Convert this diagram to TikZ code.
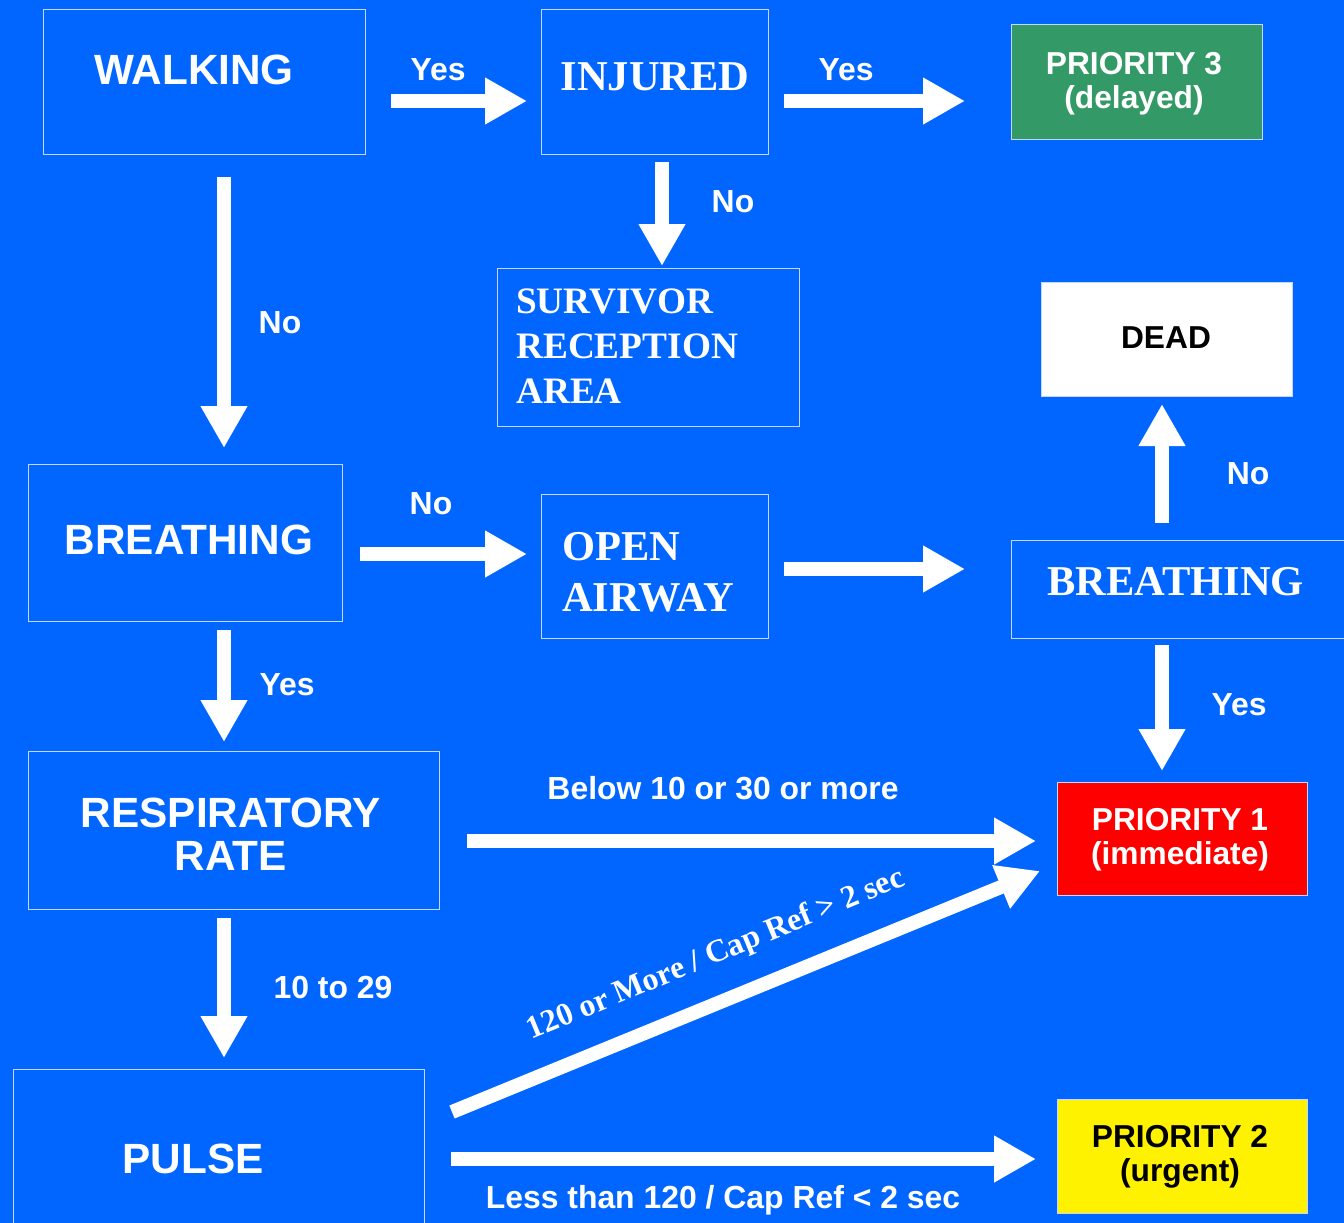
\documentclass[tikz,border=0pt]{standalone}
\usepackage{fontspec}
\setmainfont{Liberation Sans}
\newfontfamily\serifbf{Liberation Serif}
\usetikzlibrary{arrows.meta}
\definecolor{bg}{HTML}{0066FF}
\definecolor{edgecol}{HTML}{C4D8FF}
\definecolor{pgreen}{HTML}{339966}
\begin{document}
\begin{tikzpicture}[x=1pt,y=-1pt,
  box/.style={draw=edgecol, line width=1pt, inner sep=0pt, outer sep=0pt, anchor=north west},
  sanstxt/.style={text=white, inner sep=0pt, font=\fontsize{42.3}{46}\selectfont\bfseries, align=center},
  seriftxt/.style={text=white, inner sep=0pt, font=\serifbf\fontsize{42.5}{51}\selectfont\bfseries, align=left},
  prio/.style={inner sep=0pt, font=\fontsize{31.7}{34}\selectfont\bfseries, align=center},
  lbl/.style={text=white, inner sep=0pt, font=\fontsize{31.9}{34}\selectfont\bfseries},
  bigarrow/.style={draw=white, line width=14pt, -{Triangle[length=42pt,width=44pt]}}
]
\useasboundingbox (0,0) rectangle (1344,1223);
\clip (0,0) rectangle (1344,1223);
\fill[bg] (0,0) rectangle (1344,1223);

% boxes
\node[box, minimum width=322pt, minimum height=144pt] (walk) at (43,10) {};
\node[box, minimum width=227pt, minimum height=144pt] (inj) at (541,10) {};
\node[box, fill=pgreen, minimum width=251pt, minimum height=114pt] (p3) at (1011,25) {};
\node[box, minimum width=302pt, minimum height=158pt] (sra) at (497,268) {};
\node[box, fill=white, minimum width=251pt, minimum height=114pt] (dead) at (1041,282) {};
\node[box, minimum width=314pt, minimum height=157pt] (brl) at (28,464) {};
\node[box, minimum width=227pt, minimum height=144pt] (oa) at (541,494) {};
\node[box, minimum width=349pt, minimum height=98pt] (brr) at (1011,540) {};
\node[box, minimum width=411pt, minimum height=158pt] (rr) at (28,751) {};
\node[box, fill=red, minimum width=250pt, minimum height=113pt] (p1) at (1057,782) {};
\node[box, minimum width=411pt, minimum height=171pt] (pulse) at (13,1069) {};
\node[box, fill=yellow, minimum width=250pt, minimum height=114pt] (p2) at (1057,1099) {};

% box texts
\node[sanstxt] (twalk) at (194,70) {WALKING};
\node[seriftxt] (tinj) at (655,77) {INJURED};
\node[prio, text=white] (tp3) at (1134,84) {PRIORITY 3\\(delayed)};
\node[seriftxt, anchor=west, font=\serifbf\fontsize{37.3}{45}\selectfont\bfseries] (tsra) at (516,346) {SURVIVOR\\RECEPTION\\AREA};
\node[prio, text=black] (tdead) at (1166,338) {DEAD};
\node[sanstxt] (tbrl) at (189,540) {BREATHING};
\node[seriftxt, anchor=west] (toa) at (562,572) {OPEN\\AIRWAY};
\node[seriftxt, anchor=west] (tbrr) at (1047,582) {BREATHING};
\node[sanstxt, font=\fontsize{42.3}{43}\selectfont\bfseries] (trr) at (231,834) {RESPIRATORY\\RATE};
\node[prio, text=white] (tp1) at (1180,840) {PRIORITY 1\\(immediate)};
\node[sanstxt] (tpulse) at (193,1159) {PULSE};
\node[prio, text=black] (tp2) at (1180,1157) {PRIORITY 2\\(urgent)};

% arrows
\draw[bigarrow] ([xshift=26pt,yshift=-19pt]walk.east) -- ([xshift=-14pt,yshift=-19pt]inj.west);
\draw[bigarrow] ([xshift=16pt,yshift=-19pt]inj.east) -- ([xshift=-46pt,yshift=-19pt]p3.west);
\draw[bigarrow] ([xshift=7.5pt,yshift=-8pt]inj.south) -- ([xshift=14pt,yshift=2pt]sra.north);
\draw[bigarrow] ([xshift=20pt,yshift=-23pt]walk.south) -- ([xshift=39pt,yshift=16pt]brl.north);
\draw[bigarrow] ([xshift=18pt,yshift=-11.5pt]brl.east) -- ([xshift=-14pt,yshift=12pt]oa.west);
\draw[bigarrow] ([xshift=16pt,yshift=-3pt]oa.east) -- ([xshift=-46pt,yshift=20pt]brr.west);
\draw[bigarrow] ([xshift=-23.5pt,yshift=17pt]brr.north) -- ([xshift=-4.5pt,yshift=-8pt]dead.south);
\draw[bigarrow] ([xshift=-23.5pt,yshift=-7pt]brr.south) -- ([xshift=-20pt,yshift=11pt]p1.north);
\draw[bigarrow] ([xshift=39pt,yshift=-9pt]brl.south) -- ([xshift=-9.5pt,yshift=9pt]rr.north);
\draw[bigarrow] ([xshift=28pt,yshift=-11pt]rr.east) -- ([xshift=-21pt,yshift=-2.5pt]p1.west);
\draw[bigarrow] ([xshift=-9.5pt,yshift=-9pt]rr.south) -- ([xshift=5.5pt,yshift=11pt]pulse.north);
\draw[bigarrow] ([xshift=28pt,yshift=42.5pt]pulse.east) -- ([xshift=-17pt,yshift=24pt]p1.south west);
\draw[bigarrow] ([xshift=27pt,yshift=-4.5pt]pulse.east) -- ([xshift=-21pt,yshift=-3pt]p2.west);

% labels
\node[lbl] (l1) at (438,70) {Yes};
\node[lbl] (l2) at (846,70) {Yes};
\node[lbl] (l3) at (733,202) {No};
\node[lbl] (l4) at (280,323) {No};
\node[lbl] (l5) at (431,504) {No};
\node[lbl] (l6) at (1248,474) {No};
\node[lbl] (l7) at (1239,705) {Yes};
\node[lbl] (l8) at (287,685) {Yes};
\node[lbl] (l9) at (723,788) {Below 10 or 30 or more};
\node[lbl] (l10) at (333,988) {10 to 29};
\node[lbl] (l11) at (723,1200) {Less than 120 / Cap Ref < 2 sec};
\node[text=white, inner sep=0pt, font=\serifbf\fontsize{32}{34}\selectfont\bfseries, rotate=22.5] (l12) at (716,955) {120 or More / Cap Ref > 2 sec};
\end{tikzpicture}
\end{document}
